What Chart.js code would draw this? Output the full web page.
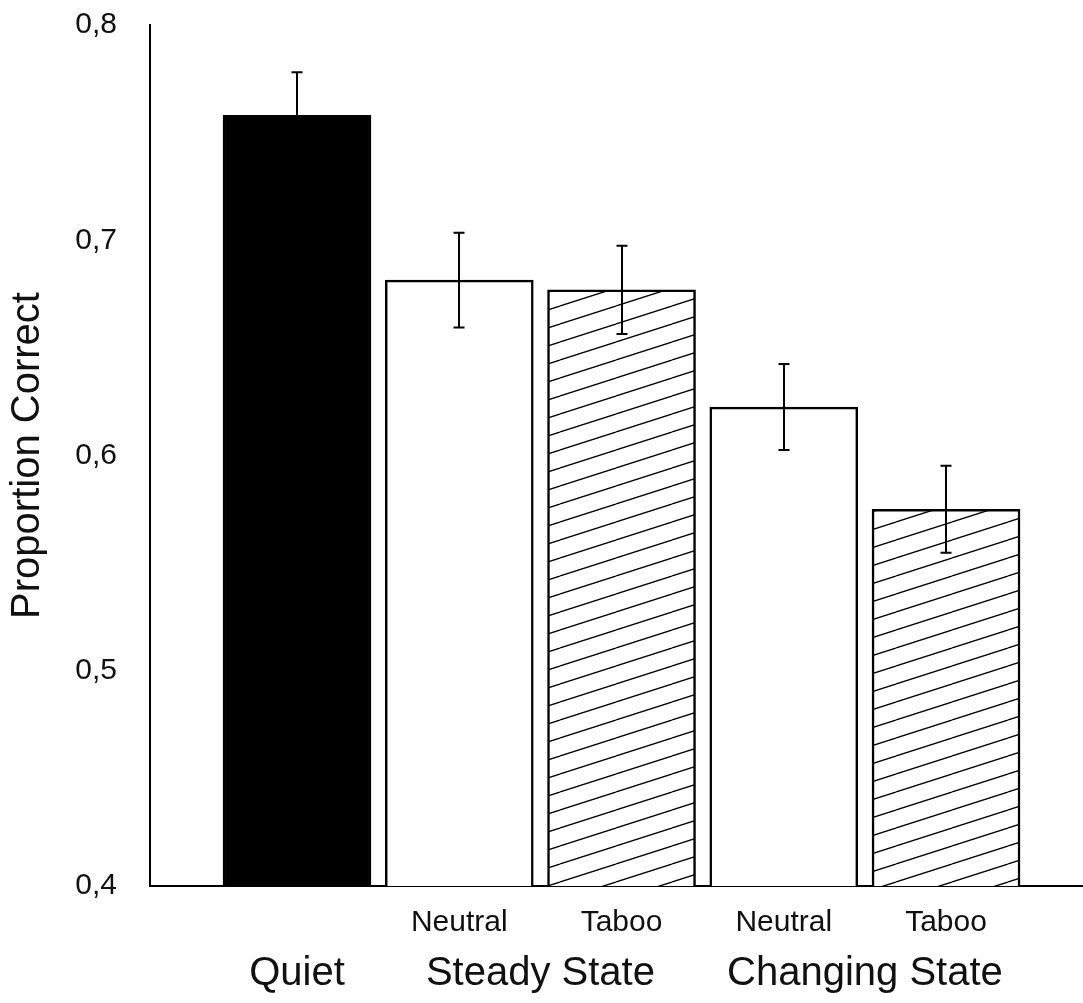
<!DOCTYPE html>
<html>
<head>
<meta charset="utf-8">
<script src="https://cdn.jsdelivr.net/npm/chart.js@4.4.1/dist/chart.umd.min.js"></script>
<style>
  html, body { margin: 0; padding: 0; background: #fff; }
  #wrap { width: 1083px; height: 1003px; position: relative; }
</style>
</head>
<body>
<div id="wrap"><canvas id="c" width="1083" height="1003"></canvas></div>
<script>
// ---- data ----
const conditions = ['Quiet', 'Steady State', 'Steady State', 'Changing State', 'Changing State'];
const wordTypes = ['', 'Neutral', 'Taboo', 'Neutral', 'Taboo'];
const proportionCorrect = [0.758, 0.6815, 0.677, 0.6225, 0.575];
const errorValues = [0.020, 0.022, 0.0205, 0.020, 0.0202];
const groupLabels = ['Quiet', 'Steady State', 'Changing State'];
const yTickValues = [0.4, 0.5, 0.6, 0.7, 0.8];
const fillKinds = ['solid', 'open', 'hatch', 'open', 'hatch'];

const FONT = '"Liberation Sans", Arial, Helvetica, sans-serif';

function makeHatch() {
  const H = 18, W = 56;
  const c = document.createElement('canvas');
  c.width = W; c.height = H;
  const g = c.getContext('2d');
  g.fillStyle = '#fff';
  g.fillRect(0, 0, W, H);
  g.strokeStyle = '#000';
  g.lineWidth = 1.3;
  for (let k = -1; k <= 1; k++) {
    g.beginPath();
    g.moveTo(0, H + k * H);
    g.lineTo(W, 0 + k * H);
    g.stroke();
  }
  return document.getElementById('c').getContext('2d').createPattern(c, 'repeat');
}
const hatch = makeHatch();
const colors = fillKinds.map(k => k === 'solid' ? '#000' : (k === 'hatch' ? hatch : '#fff'));

const points = proportionCorrect.map((v, i) => ({ x: i + 1, y: v }));

const errorBarPlugin = {
  id: 'errorBars',
  afterDatasetsDraw(chart) {
    const { ctx, scales: { x, y } } = chart;
    ctx.save();
    ctx.strokeStyle = '#000';
    ctx.lineWidth = 2;
    proportionCorrect.forEach((v, i) => {
      const px = Math.round(x.getPixelForValue(i + 1));
      const top = y.getPixelForValue(v + errorValues[i]);
      const bot = y.getPixelForValue(v - errorValues[i]);
      ctx.beginPath();
      ctx.moveTo(px, top); ctx.lineTo(px, bot);
      ctx.moveTo(px - 5.5, top); ctx.lineTo(px + 5.5, top);
      ctx.moveTo(px - 5.5, bot); ctx.lineTo(px + 5.5, bot);
      ctx.stroke();
    });
    ctx.restore();
  }
};

const groupLabelPlugin = {
  id: 'groupLabels',
  afterDraw(chart) {
    const { ctx, scales: { x } } = chart;
    ctx.save();
    ctx.fillStyle = '#111';
    ctx.font = '40px ' + FONT;
    ctx.textAlign = 'center';
    ctx.textBaseline = 'alphabetic';
    groupLabels.forEach(name => {
      const idx = conditions.map((c, i) => c === name ? i + 1 : null).filter(v => v !== null);
      const center = (x.getPixelForValue(idx[0]) + x.getPixelForValue(idx[idx.length - 1])) / 2;
      ctx.fillText(name, center, 985);
    });
    ctx.restore();
  }
};

new Chart(document.getElementById('c'), {
  type: 'bar',
  data: {
    datasets: [{
      data: points,
      backgroundColor: colors,
      borderColor: '#000',
      borderWidth: 2.5,
      borderSkipped: 'start',
      barThickness: 148
    }]
  },
  options: {
    responsive: false,
    animation: false,
    layout: { padding: { top: 25, right: 0, left: 0, bottom: 0 } },
    plugins: { legend: { display: false }, tooltip: { enabled: false } },
    scales: {
      x: {
        type: 'linear',
        offset: false,
        bounds: 'data',
        min: 0.094,
        max: 5.844,
        grid: { display: false, drawTicks: false, offset: false },
        border: { display: true, color: '#000', width: 2 },
        afterBuildTicks(scale) { scale.ticks = wordTypes.map((w, i) => ({ value: i + 1 })); },
        afterFit(scale) { scale.height = 1003 - 886; scale.paddingLeft = 0; scale.paddingRight = 0; },
        ticks: {
          autoSkip: false,
          maxRotation: 0,
          padding: 19,
          color: '#111',
          font: { family: FONT, size: 30 },
          callback: (v) => wordTypes[v - 1] ?? ''
        }
      },
      y: {
        min: 0.4,
        max: 0.8,
        grid: { display: false, drawTicks: false },
        border: { display: true, color: '#000', width: 2 },
        afterBuildTicks(scale) { scale.ticks = yTickValues.map(v => ({ value: v })); },
        afterFit(scale) { scale.width = 150; scale.paddingTop = 0; scale.paddingBottom = 0; },
        ticks: {
          padding: 33,
          color: '#111',
          font: { family: FONT, size: 30 },
          callback: (v) => v.toFixed(1).replace('.', ',')
        },
        title: {
          display: true,
          text: 'Proportion Correct',
          color: '#111',
          font: { family: FONT, size: 40 },
          padding: { top: 4, bottom: 0 }
        }
      }
    }
  },
  plugins: [errorBarPlugin, groupLabelPlugin]
});
</script>
</body>
</html>
